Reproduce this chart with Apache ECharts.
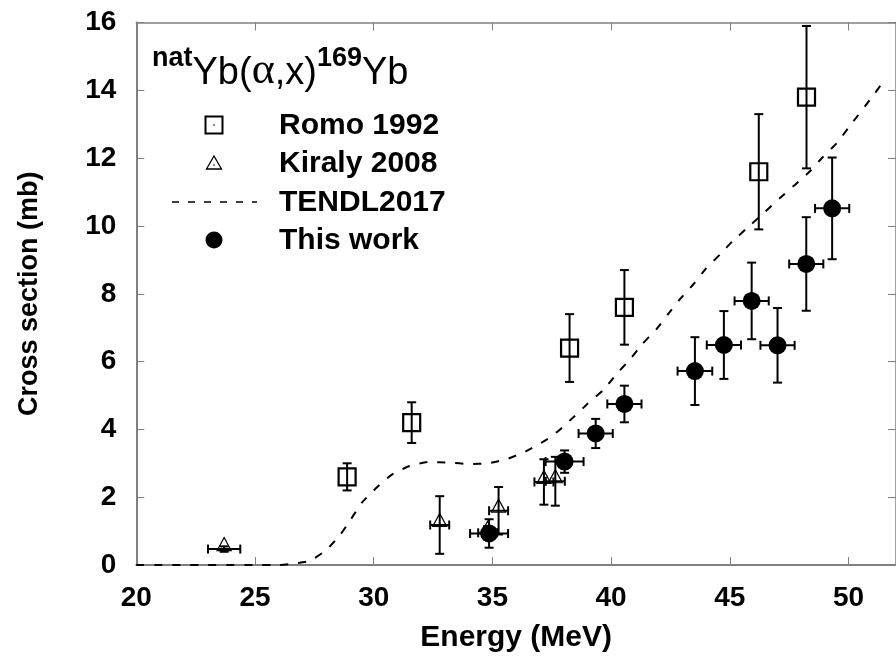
<!DOCTYPE html>
<html>
<head>
<meta charset="utf-8">
<script src="https://cdn.jsdelivr.net/npm/echarts@6/dist/echarts.min.js"></script>
<style>
html,body{margin:0;padding:0;background:#fff;}
#chart{width:896px;height:664px;}
</style>
</head>
<body>
<div id="chart"></div>
<script>
// ---- Data ----
// Romo 1992 (open squares)
const romoEnergy = [28.88, 31.6, 38.25, 40.56, 46.22, 48.23];
const romoValue  = [2.6, 4.2, 6.4, 7.6, 11.6, 13.8];
const romoYErr   = [0.4, 0.6, 1.0, 1.1, 1.7, 2.1];

// Kiraly 2008 (open triangles)
const kiralyEnergy = [23.7, 32.78, 34.8, 35.26, 37.17, 37.65];
const kiralyValue  = [0.47, 1.18, 0.95, 1.6, 2.45, 2.47];
const kiralyYErr   = [0.08, 0.85, 0.2, 0.7, 0.67, 0.72];
const kiralyXErr   = [0.68, 0.4, 0.4, 0.4, 0.4, 0.4];

// TENDL2017 (dashed curve)
const tendlEnergy = [20, 21, 22, 23, 24, 25, 26, 26.5, 27.3, 28.0, 28.6, 29.05, 29.5, 30.15, 30.75, 31.5, 32.3, 33.2, 34.0, 34.8, 35.6, 36.4, 37.2, 37.8, 38.4, 39.0, 39.7, 40.2, 40.8, 41.3, 41.9, 42.4, 42.9, 43.5, 44.0, 44.6, 45.1, 45.9, 46.5, 47.1, 47.75, 48.4, 48.9, 49.5, 50.0, 51.0, 51.5];
const tendlValue  = [0, 0, 0, 0, 0, 0, 0, 0.03, 0.12, 0.44, 0.9, 1.36, 1.84, 2.3, 2.66, 2.92, 3.04, 3.02, 2.98, 3.0, 3.12, 3.35, 3.66, 3.97, 4.35, 4.75, 5.18, 5.61, 6.07, 6.51, 6.95, 7.4, 7.84, 8.31, 8.75, 9.17, 9.54, 10.05, 10.43, 10.82, 11.22, 11.63, 12.02, 12.44, 12.9, 13.81, 14.29];

// This work (filled circles)
const workEnergy = [34.86, 38.04, 39.35, 40.56, 43.53, 44.75, 45.92, 47.01, 48.22, 49.31];
const workValue  = [0.93, 3.05, 3.88, 4.75, 5.72, 6.49, 7.79, 6.48, 8.88, 10.52];
const workYErr   = [0.42, 0.33, 0.43, 0.54, 1.0, 1.0, 1.13, 1.1, 1.38, 1.5];
const workXErr   = [0.8, 0.8, 0.72, 0.72, 0.73, 0.72, 0.72, 0.72, 0.72, 0.72];

// Axis settings
const xMin = 20, xMax = 52, xStep = 5;
const yMin = 0, yMax = 16, yStep = 2;

// ---- Build ----
const FONT = 'Liberation Sans, Arial, Helvetica, sans-serif';
const zip2 = (a, b) => a.map((v, i) => [v, b[i]]);
const errRows = (e, v, xe, ye) => e.map((x, i) => [x, v[i], xe ? xe[i] : 0, ye ? ye[i] : 0]);

function errRender(params, api) {
  const x = api.value(0), y = api.value(1), xe = api.value(2), ye = api.value(3);
  const cap = 4.5;
  const st = { stroke: '#000', lineWidth: 2, fill: null };
  const ch = [];
  if (ye > 0) {
    const t = api.coord([x, y + ye]), b = api.coord([x, y - ye]);
    ch.push({ type: 'line', shape: { x1: t[0], y1: t[1], x2: b[0], y2: b[1] }, style: st });
    ch.push({ type: 'line', shape: { x1: t[0] - cap, y1: t[1], x2: t[0] + cap, y2: t[1] }, style: st });
    ch.push({ type: 'line', shape: { x1: b[0] - cap, y1: b[1], x2: b[0] + cap, y2: b[1] }, style: st });
  }
  if (xe > 0) {
    const l = api.coord([x - xe, y]), r = api.coord([x + xe, y]);
    ch.push({ type: 'line', shape: { x1: l[0], y1: l[1], x2: r[0], y2: r[1] }, style: st });
    ch.push({ type: 'line', shape: { x1: l[0], y1: l[1] - cap, x2: l[0], y2: l[1] + cap }, style: st });
    ch.push({ type: 'line', shape: { x1: r[0], y1: r[1] - cap, x2: r[0], y2: r[1] + cap }, style: st });
  }
  return { type: 'group', children: ch };
}

const axisGray = '#808080';
const chart = echarts.init(document.getElementById('chart'), null, { renderer: 'canvas' });

const gridLeft = 136.3, gridTop = 22.6, gridBottom = 99;
const gridWidth = (xMax - xMin) * 24.1;

const legX = 214, legText = 279;
const legRows = [125, 163, 202, 240];

function legendText(txt, y) {
  return { type: 'text', x: legText, y: y, z: 10,
    style: { text: txt, fontFamily: FONT, fontSize: 30, fontWeight: 'bold', fill: '#000',
      align: 'left', verticalAlign: 'middle' } };
}

const option = {
  animation: false,
  backgroundColor: '#fff',
  grid: { left: gridLeft, top: gridTop, bottom: gridBottom, width: gridWidth, containLabel: false },
  xAxis: [
    {
      type: 'value', min: xMin, max: xMax, interval: xStep, position: 'bottom',
      name: 'Energy (MeV)', nameLocation: 'middle', nameGap: 58,
      nameTextStyle: { fontFamily: FONT, fontSize: 30, fontWeight: 'bold', color: '#000' },
      axisLine: { show: true, onZero: false, lineStyle: { color: axisGray, width: 2 } },
      axisTick: { show: true, inside: true, length: 8, lineStyle: { color: axisGray, width: 1 } },
      axisLabel: { fontFamily: FONT, fontSize: 28, fontWeight: 'bold', color: '#000', margin: 19,
        showMaxLabel: false },
      splitLine: { show: false }
    },
    {
      type: 'value', min: xMin, max: xMax, interval: xStep, position: 'top',
      axisLine: { show: true, onZero: false, lineStyle: { color: axisGray, width: 1.5 } },
      axisTick: { show: true, inside: true, length: 8, lineStyle: { color: axisGray, width: 1 } },
      axisLabel: { show: false }, splitLine: { show: false }
    }
  ],
  yAxis: [
    {
      type: 'value', min: yMin, max: yMax, interval: yStep, position: 'left',
      name: 'Cross section (mb)', nameLocation: 'middle', nameGap: 93, nameRotate: 90,
      nameTextStyle: { fontFamily: FONT, fontSize: 27, fontWeight: 'bold', color: '#000' },
      axisLine: { show: true, onZero: false, lineStyle: { color: axisGray, width: 2 } },
      axisTick: { show: true, inside: true, length: 8, lineStyle: { color: axisGray, width: 1 } },
      axisLabel: { fontFamily: FONT, fontSize: 28, fontWeight: 'bold', color: '#000', margin: 20 },
      splitLine: { show: false }
    },
    {
      type: 'value', min: yMin, max: yMax, interval: yStep, position: 'right',
      axisLine: { show: true, onZero: false, lineStyle: { color: axisGray, width: 1.5 } },
      axisTick: { show: true, inside: true, length: 8, lineStyle: { color: axisGray, width: 1 } },
      axisLabel: { show: false }, splitLine: { show: false }
    }
  ],
  series: [
    {
      name: 'TENDL2017', type: 'line', data: zip2(tendlEnergy, tendlValue),
      smooth: 0.15, showSymbol: false, symbol: 'none',
      lineStyle: { color: '#000', width: 2, type: [8, 10] }, z: 2
    },
    {
      name: 'romoErr', type: 'custom', renderItem: errRender,
      data: errRows(romoEnergy, romoValue, null, romoYErr), encode: { x: 0, y: 1 }, z: 3
    },
    {
      name: 'kiralyErr', type: 'custom', renderItem: errRender,
      data: errRows(kiralyEnergy, kiralyValue, kiralyXErr, kiralyYErr), encode: { x: 0, y: 1 }, z: 3
    },
    {
      name: 'workErr', type: 'custom', renderItem: errRender,
      data: errRows(workEnergy, workValue, workXErr, workYErr), encode: { x: 0, y: 1 }, z: 4
    },
    {
      name: 'Romo 1992', type: 'scatter', data: zip2(romoEnergy, romoValue),
      symbol: 'rect', symbolSize: 17,
      itemStyle: { color: 'rgba(0,0,0,0)', borderColor: '#000', borderWidth: 2.2, opacity: 1 }, z: 5
    },
    {
      name: 'Kiraly 2008', type: 'scatter', data: zip2(kiralyEnergy, kiralyValue),
      symbol: 'triangle', symbolSize: [14, 13], symbolOffset: [0, -5],
      itemStyle: { color: 'rgba(0,0,0,0)', borderColor: '#000', borderWidth: 1.2, opacity: 1 }, z: 5
    },
    {
      name: 'This work', type: 'scatter', data: zip2(workEnergy, workValue),
      symbol: 'circle', symbolSize: 18,
      itemStyle: { color: '#000', borderWidth: 0, opacity: 1 }, z: 6
    }
  ],
  graphic: [
    {
      type: 'text', left: 152, top: 45, z: 10,
      style: {
        text: '{sup|nat}{main|Yb(}{greek|α}{main|,x)}{sup|169}{main|Yb}',
        rich: {
          main: { fontFamily: FONT, fontSize: 38, color: '#000', lineHeight: 48, verticalAlign: 'bottom' },
          greek: { fontFamily: 'Liberation Serif, DejaVu Serif, serif', fontSize: 44, color: '#000', lineHeight: 48, verticalAlign: 'bottom' },
          sup: { fontFamily: FONT, fontSize: 27, fontWeight: 'bold', color: '#000', lineHeight: 26, verticalAlign: 'top' }
        }
      }
    },
    // legend symbols
    { type: 'rect', shape: { x: legX - 8.5, y: legRows[0] - 8.5, width: 17, height: 17 },
      style: { fill: '#fff', stroke: '#000', lineWidth: 2 }, z: 10 },
    { type: 'circle', shape: { cx: legX, cy: legRows[0], r: 0.8 }, style: { fill: '#000' }, z: 11 },
    { type: 'polygon', shape: { points: [[legX, legRows[1] - 7], [legX - 7.5, legRows[1] + 6], [legX + 7.5, legRows[1] + 6]] },
      style: { fill: '#fff', stroke: '#000', lineWidth: 1.3 }, z: 10 },
    { type: 'circle', shape: { cx: legX, cy: legRows[1] + 2, r: 0.8 }, style: { fill: '#000' }, z: 11 },
    { type: 'line', shape: { x1: 172, y1: legRows[2], x2: 257, y2: legRows[2] },
      style: { stroke: '#000', lineWidth: 1.5, lineDash: [7, 9] }, z: 10 },
    { type: 'circle', shape: { cx: legX, cy: legRows[3], r: 8.5 }, style: { fill: '#000' }, z: 10 },
    // legend texts
    legendText('Romo 1992', legRows[0] + 1),
    legendText('Kiraly 2008', legRows[1] + 1),
    legendText('TENDL2017', legRows[2] + 1),
    legendText('This work', legRows[3] + 1)
  ]
};
chart.setOption(option);
</script>
</body>
</html>
